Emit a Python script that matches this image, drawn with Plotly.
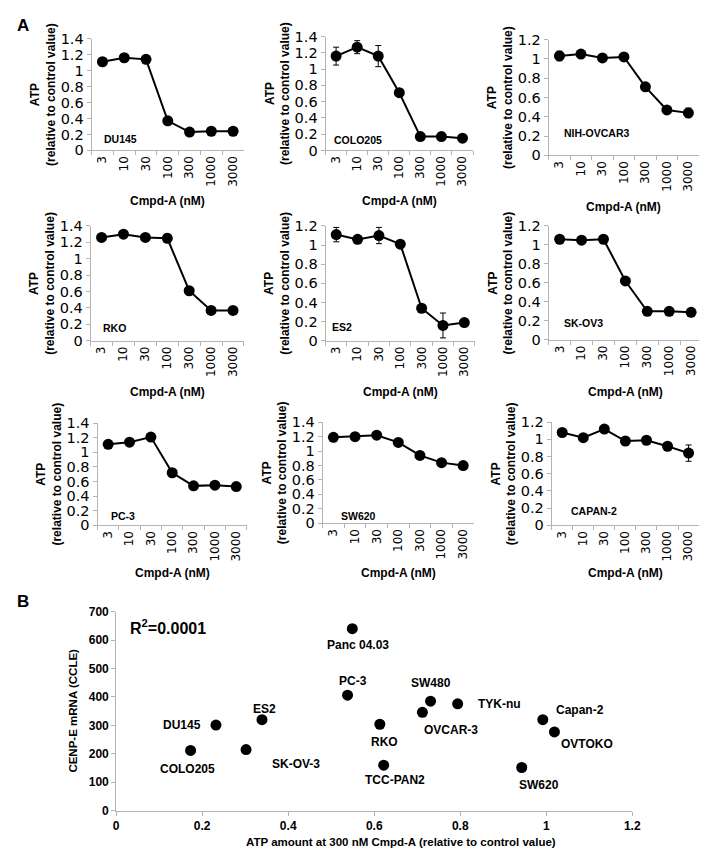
import plotly.graph_objects as go

W, H = 707, 850

# ---- panel A data: ATP (relative to control) vs Cmpd-A dose ----
doses = ["3", "10", "30", "100", "300", "1000", "3000"]

du145 = [1.11, 1.16, 1.14, 0.37, 0.23, 0.24, 0.24]
du145_err = [0.02, 0.02, 0.02, 0.02, 0.02, 0.02, 0.02]
colo205 = [1.16, 1.27, 1.16, 0.71, 0.17, 0.17, 0.15]
colo205_err = [0.11, 0.08, 0.13, 0.02, 0.02, 0.02, 0.02]
nih_ovcar3 = [1.03, 1.05, 1.01, 1.02, 0.71, 0.47, 0.44]
nih_ovcar3_err = [0.05, 0.02, 0.02, 0.02, 0.02, 0.02, 0.05]
rko = [1.26, 1.30, 1.26, 1.25, 0.61, 0.37, 0.37]
rko_err = [0.04, 0.02, 0.02, 0.05, 0.02, 0.02, 0.02]
es2 = [1.11, 1.06, 1.10, 1.01, 0.34, 0.16, 0.19]
es2_err = [0.075, 0.02, 0.085, 0.02, 0.02, 0.13, 0.02]
sk_ov3 = [1.06, 1.05, 1.06, 0.62, 0.30, 0.30, 0.29]
sk_ov3_err = [0.02, 0.02, 0.04, 0.02, 0.02, 0.02, 0.02]
pc3 = [1.11, 1.14, 1.21, 0.72, 0.54, 0.55, 0.53]
pc3_err = [0.02, 0.02, 0.02, 0.02, 0.02, 0.02, 0.02]
sw620 = [1.19, 1.20, 1.22, 1.12, 0.94, 0.84, 0.80]
sw620_err = [0.02, 0.02, 0.02, 0.02, 0.02, 0.02, 0.02]
capan2 = [1.08, 1.02, 1.12, 0.98, 0.99, 0.92, 0.84]
capan2_err = [0.02, 0.02, 0.02, 0.045, 0.02, 0.02, 0.095]

cell_lines = ["DU145", "COLO205", "NIH-OVCAR3", "RKO", "ES2", "SK-OV3", "PC-3", "SW620", "CAPAN-2"]
series = [du145, colo205, nih_ovcar3, rko, es2, sk_ov3, pc3, sw620, capan2]
errors = [du145_err, colo205_err, nih_ovcar3_err, rko_err, es2_err, sk_ov3_err,
          pc3_err, sw620_err, capan2_err]
y_max = [1.4, 1.4, 1.2, 1.4, 1.2, 1.2, 1.4, 1.4, 1.2]

# ---- panel B data ----
b_names = ["COLO205", "DU145", "SK-OV-3", "ES2", "PC-3", "Panc 04.03", "RKO", "TCC-PAN2",
           "OVCAR-3", "SW480", "TYK-nu", "Capan-2", "OVTOKO", "SW620"]
b_atp = [0.173, 0.232, 0.302, 0.339, 0.538, 0.549, 0.613, 0.622,
         0.712, 0.731, 0.794, 0.992, 1.019, 0.943]
b_cenpe = [212, 301, 215, 320, 406, 640, 304, 160, 346, 385, 376, 320, 277, 152]

# layout helpers (pixel boxes: x0, x1, y_top, y_bottom)
boxes = [(82, 237, 23, 137), (320, 470, 21, 137), (547, 700, 24, 142),
         (81, 237, 214, 331), (320, 472, 214, 331), (547, 703, 214, 330),
         (88, 240, 415, 519), (317, 471, 414, 517), (550, 700, 414, 519)]
label_pos = [(0.065, 0.10), (0.045, 0.095), (0.09, 0.19),
             (0.07, 0.11), (0.033, 0.12), (0.088, 0.15),
             (0.079, 0.087), (0.107, 0.068), (0.12, 0.14)]
xtitle_y = [189, 189, 195, 383, 383, 383, 568, 568, 568]
b_offsets = [(-3, 19), (-34, 0), (50, 14), (3, -11), (5, -14), (6, 16), (5, 18), (11, 15),
             (29, 18), (0, -18), (42, 0), (37, -10), (33, 12), (17, 17)]

AX = "#b4b4b4"
BOLD = "Liberation Sans"
TICK = "DejaVu Sans"


def px(x):
    return x / W


def py(y):
    return 1 - y / H


fig = go.Figure()
annotations = []
layout = {}

for i in range(9):
    n = i + 1
    s = "" if n == 1 else str(n)
    x0, x1, yt, yb = boxes[i]
    fig.add_trace(go.Scatter(
        x=doses, y=series[i], mode="lines+markers",
        line=dict(color="black", width=2),
        marker=dict(size=11, color="black"),
        error_y=dict(type="data", array=errors[i], color="black", thickness=1, width=3),
        xaxis="x" + s, yaxis="y" + s, showlegend=False, cliponaxis=False))
    layout["xaxis" + s] = dict(
        domain=[px(x0), px(x1)], anchor="y" + s, type="category", range=[-0.5, 6.5],
        showline=True, linecolor=AX, ticks="outside", ticklen=4, tickcolor=AX,
        tickson="boundaries", tickangle=-90, showgrid=False, zeroline=False,
        tickfont=dict(family=TICK, size=12, color="black"))
    layout["yaxis" + s] = dict(
        domain=[py(yb), py(yt)], anchor="x" + s, range=[0, y_max[i]], dtick=0.2,
        showline=True, linecolor=AX, ticks="outside", ticklen=4, tickcolor=AX,
        showgrid=False, zeroline=False,
        tickfont=dict(family=TICK, size=14.5, color="black"))
    annotations.append(dict(
        text=cell_lines[i], xref="x" + s + " domain", yref="y" + s + " domain",
        x=label_pos[i][0], y=label_pos[i][1], xanchor="left", yanchor="middle",
        showarrow=False, font=dict(family=BOLD, size=10.5, color="black", weight="bold")))
    annotations.append(dict(
        text="Cmpd-A (nM)", xref="paper", yref="paper",
        x=px((x0 + x1) / 2), y=py(xtitle_y[i]), xanchor="center", yanchor="middle",
        showarrow=False, font=dict(family=BOLD, size=12, color="black", weight="bold")))
    annotations.append(dict(
        text="ATP<br>(relative to control value)", xref="paper", yref="y" + s + " domain",
        x=px(x0 - 49), y=0.5, xanchor="center", yanchor="middle", textangle=-90,
        showarrow=False, font=dict(family=BOLD, size=12, color="black", weight="bold")))

# panel B scatter
fig.add_trace(go.Scatter(
    x=b_atp, y=b_cenpe, mode="markers", marker=dict(size=11, color="black"),
    xaxis="x10", yaxis="y10", showlegend=False, cliponaxis=False))
layout["xaxis10"] = dict(
    domain=[px(107), px(632)], anchor="y10", range=[0, 1.2], dtick=0.2,
    showline=True, linecolor=AX, ticks="outside", ticklen=4, tickcolor=AX,
    showgrid=False, zeroline=False,
    tickfont=dict(family=BOLD, size=12, color="black", weight="bold"))
layout["yaxis10"] = dict(
    domain=[py(810), py(607)], anchor="x10", range=[0, 700], dtick=100,
    showline=True, linecolor=AX, ticks="outside", ticklen=4, tickcolor=AX,
    showgrid=False, zeroline=False,
    tickfont=dict(family=BOLD, size=12, color="black", weight="bold"))

for name, xv, yv, (dx, dy) in zip(b_names, b_atp, b_cenpe, b_offsets):
    annotations.append(dict(
        text=name, xref="x10", yref="y10", x=xv, y=yv, xshift=dx, yshift=-dy,
        xanchor="center", yanchor="middle", showarrow=False,
        font=dict(family=BOLD, size=12, color="black", weight="bold")))

annotations.append(dict(
    text="R<sup>2</sup>=0.0001", xref="paper", yref="paper", x=px(160), y=py(623),
    xanchor="center", yanchor="middle", showarrow=False,
    font=dict(family=BOLD, size=16, color="black", weight="bold")))
annotations.append(dict(
    text="ATP amount at 300 nM Cmpd-A (relative to control value)", xref="paper", yref="paper",
    x=px(397), y=py(842), xanchor="center", yanchor="middle", showarrow=False,
    font=dict(family=BOLD, size=11.5, color="black", weight="bold")))
annotations.append(dict(
    text="CENP-E mRNA (CCLE)", xref="paper", yref="paper", x=px(63), y=py(708),
    xanchor="center", yanchor="middle", textangle=-90, showarrow=False,
    font=dict(family=BOLD, size=11.5, color="black", weight="bold")))

# panel letters
annotations.append(dict(
    text="A", xref="paper", yref="paper", x=px(4), y=py(10), xanchor="left", yanchor="middle",
    showarrow=False, font=dict(family=BOLD, size=17, color="black", weight="bold")))
annotations.append(dict(
    text="B", xref="paper", yref="paper", x=px(4), y=py(597), xanchor="left", yanchor="middle",
    showarrow=False, font=dict(family=BOLD, size=17, color="black", weight="bold")))

fig.update_layout(
    width=W, height=H, margin=dict(l=0, r=0, t=0, b=0),
    paper_bgcolor="white", plot_bgcolor="white",
    annotations=annotations, **layout)

fig.write_html("out.html")
